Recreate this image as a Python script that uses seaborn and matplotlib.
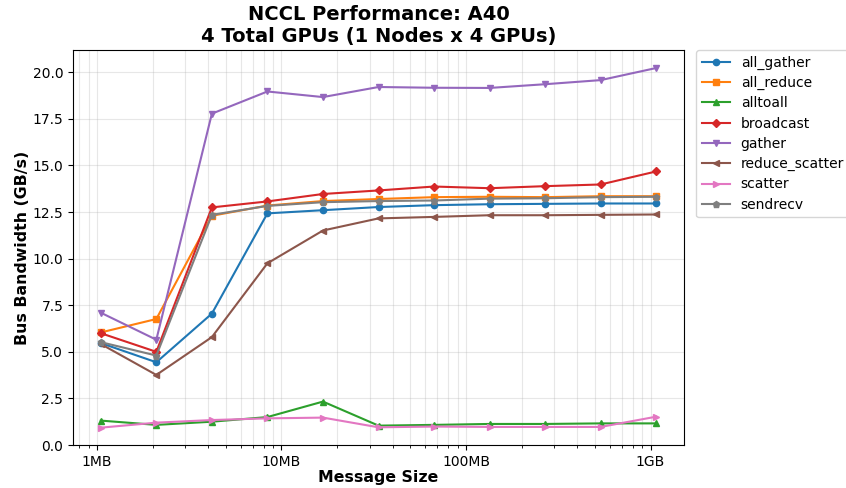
import matplotlib
matplotlib.use("Agg")
import matplotlib.pyplot as plt
import matplotlib.ticker as mticker
import numpy as np
import pandas as pd
import seaborn as sns

sizes_bytes = [2**20, 2**21, 2**22, 2**23, 2**24, 2**25, 2**26, 2**27, 2**28, 2**29, 2**30]

all_gather = [5.47, 4.44, 7.05, 12.43, 12.60, 12.77, 12.87, 12.92, 12.94, 12.96, 12.96]
all_reduce = [6.04, 6.76, 12.30, 12.85, 13.09, 13.20, 13.30, 13.32, 13.30, 13.35, 13.35]
alltoall = [1.31, 1.08, 1.25, 1.50, 2.33, 1.04, 1.08, 1.13, 1.13, 1.16, 1.16]
broadcast = [6.00, 5.00, 12.75, 13.07, 13.47, 13.66, 13.87, 13.78, 13.89, 13.98, 14.68]
gather = [7.10, 5.65, 17.78, 18.97, 18.67, 19.21, 19.17, 19.16, 19.36, 19.58, 20.23]
reduce_scatter = [5.42, 3.76, 5.79, 9.75, 11.51, 12.16, 12.24, 12.33, 12.33, 12.35, 12.37]
scatter = [0.93, 1.20, 1.34, 1.43, 1.47, 0.95, 0.99, 0.97, 0.97, 0.97, 1.52]
sendrecv = [5.52, 4.80, 12.35, 12.83, 13.03, 13.09, 13.12, 13.22, 13.24, 13.30, 13.32]

collectives = ["all_gather", "all_reduce", "alltoall", "broadcast",
               "gather", "reduce_scatter", "scatter", "sendrecv"]
series = [all_gather, all_reduce, alltoall, broadcast,
          gather, reduce_scatter, scatter, sendrecv]
marker_list = ["o", "s", "^", "D", "v", "<", ">", "p"]

tick_vals = [1e6, 1e7, 1e8, 1e9]
tick_labels = ["1MB", "10MB", "100MB", "1GB"]

rows = []
for name, vals in zip(collectives, series):
    for s, v in zip(sizes_bytes, vals):
        rows.append({"size": s, "bw": v, "collective": name})
df = pd.DataFrame(rows)

fig = plt.figure(figsize=(8.46, 4.88), dpi=100)
ax = fig.add_axes([0.0863, 0.0881, 0.8085 - 0.0863, 0.8975 - 0.0881])

palette = dict(zip(collectives, sns.color_palette("tab10", len(collectives))))
markers = dict(zip(collectives, marker_list))

sns.lineplot(data=df, x="size", y="bw", hue="collective", style="collective",
             hue_order=collectives, style_order=collectives,
             palette=palette, markers=markers, dashes=False,
             linewidth=1.5, markersize=4.5, ax=ax)

for ln in ax.lines:
    ln.set_markeredgecolor(ln.get_color())
    ln.set_markeredgewidth(1.0)

ax.set_xscale("log")
ax.set_xticks(tick_vals)
ax.set_xticklabels(tick_labels)
ax.xaxis.set_minor_formatter(mticker.NullFormatter())
ax.set_ylim(bottom=0)
ax.margins(x=0.05)
ax.grid(True, which="both", alpha=0.3)

ax.set_xlabel("Message Size", fontsize=11.3, fontweight="bold", labelpad=1.0)
ax.set_ylabel("Bus Bandwidth (GB/s)", fontsize=11.3, fontweight="bold", labelpad=1.5)
ax.set_title("NCCL Performance: A40\n4 Total GPUs (1 Nodes x 4 GPUs)",
             fontsize=14, fontweight="bold")

handles, labels = ax.get_legend_handles_labels()
leg = ax.legend(handles, labels, loc="upper left", bbox_to_anchor=(1.02, 1.0),
                borderaxespad=0.0, fontsize=10, labelspacing=0.45, title=None)
for h in leg.legend_handles:
    try:
        h.set_markeredgecolor(h.get_color())
        h.set_markeredgewidth(1.0)
    except Exception:
        pass

fig.savefig("out.png", dpi=100)
